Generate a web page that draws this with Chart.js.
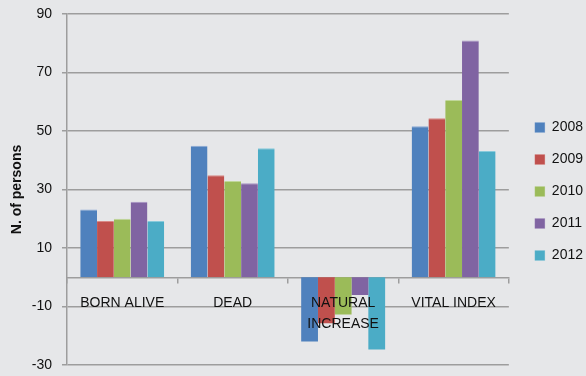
<!DOCTYPE html>
<html>
<head>
<meta charset="utf-8">
<script src="https://cdn.jsdelivr.net/npm/chart.js@4/dist/chart.umd.min.js"></script>
<style>
  html, body { margin: 0; padding: 0; background: #e6e7e9; }
  #wrap { width: 586px; height: 376px; position: relative; }
</style>
</head>
<body>
<div id="wrap"><canvas id="c" width="586" height="376"></canvas></div>
<script>
// Categories and yearly series (number of persons)
const categories = ["BORN ALIVE", "DEAD", ["NATURAL", "INCREASE"], "VITAL INDEX"];
const years = ["2008", "2009", "2010", "2011", "2012"];
const v2008 = [23.2, 45.0, -22.0, 51.6];
const v2009 = [19.2, 34.9, -15.7, 54.4];
const v2010 = [20.0, 32.9, -12.7, 60.6];
const v2011 = [25.8, 32.1, -6.1, 80.9];
const v2012 = [19.2, 44.1, -24.7, 43.2];
const yTickMin = -30, yTickMax = 90, yTickStep = 20;

const fills = ["#4f81bd", "#c0504d", "#9bbb59", "#8064a2", "#4bacc6"];
const edges = ["#8aa9d6", "#d98987", "#c0d79a", "#a793c4", "#88cadb"];
const series = [v2008, v2009, v2010, v2011, v2012];

const gridColor = "#9d9d9d";
const textColor = "#111111";
const fontFamily = "'Liberation Sans', Arial, sans-serif";

// Nudge the legend block a little further right of the plot
const legendShift = {
  id: "legendShift",
  afterLayout(chart) {
    const lg = chart.legend;
    if (!lg) return;
    lg.left += 8; lg.right += 8;
    lg.top += 2; lg.bottom += 2;
  }
};

new Chart(document.getElementById("c"), {
  type: "bar",
  plugins: [legendShift],
  data: {
    labels: categories,
    datasets: series.map((vals, i) => ({
      label: years[i],
      data: vals,
      backgroundColor: fills[i],
      borderColor: edges[i],
      borderWidth: { top: 1, right: 0, bottom: 0, left: 0 },
      barPercentage: 1,
      categoryPercentage: 0.76
    }))
  },
  options: {
    responsive: false,
    animation: false,
    layout: { padding: { top: 14, bottom: 11, left: 0, right: 1 } },
    plugins: {
      tooltip: { enabled: false },
      legend: {
        position: "right",
        align: "center",
        labels: {
          boxWidth: 10,
          boxHeight: 10,
          padding: 18,
          color: textColor,
          font: { family: fontFamily, size: 14 }
        }
      }
    },
    scales: {
      x: {
        position: { y: 0 },
        grid: {
          display: true,
          drawOnChartArea: false,
          drawTicks: true,
          tickLength: 5,
          color: gridColor,
          lineWidth: 1.5,
          offset: true
        },
        border: { display: true, color: gridColor, width: 1.5 },
        ticks: {
          z: 1,
          color: textColor,
          padding: 10,
          maxRotation: 0,
          autoSkip: false,
          font: { family: fontFamily, size: 14, lineHeight: 1.5 }
        }
      },
      y: {
        min: yTickMin,
        max: yTickMax,
        afterFit(scale) {
          scale.width = 67;
          scale.paddingTop = 0;
          scale.paddingBottom = 0;
        },
        grid: {
          color: gridColor,
          lineWidth: 1.5,
          tickLength: 5
        },
        border: { display: true, color: gridColor, width: 1.5 },
        ticks: {
          stepSize: yTickStep,
          color: textColor,
          padding: 10,
          font: { family: fontFamily, size: 14 }
        },
        title: {
          display: true,
          text: "N. of persons",
          color: textColor,
          padding: { top: 9, bottom: 1 },
          font: { family: fontFamily, size: 14, weight: "bold" }
        }
      }
    }
  }
});
</script>
</body>
</html>
